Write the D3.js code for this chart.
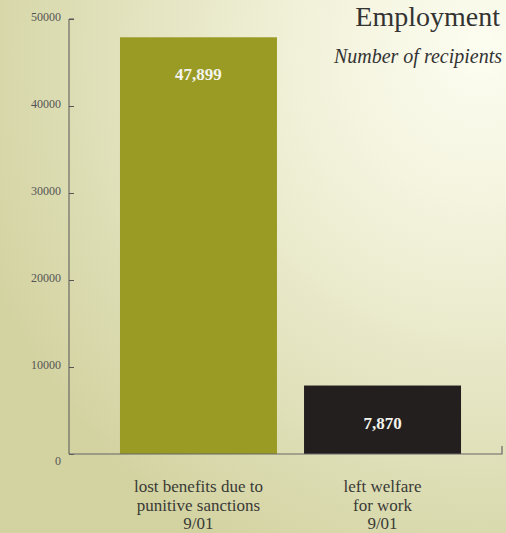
<!DOCTYPE html>
<html>
<head>
<meta charset="utf-8">
<script src="https://cdn.jsdelivr.net/npm/d3@7"></script>
<style>
  html, body { margin: 0; padding: 0; background: #e6e6c4; }
  svg { display: block; }
  svg text { font-family: 'Liberation Serif', 'DejaVu Serif', serif; }
  .axis text { font-size: 12px; fill: #555; }
  .axis path, .axis line { stroke: #555; }
</style>
</head>
<body>
<div id="chart"></div>
<script>
// Chart data
const categories = ["sanctions", "work"];
const categoryLines = [
    ["lost benefits due to", "punitive sanctions", "9/01"],
    ["left welfare", "for work", "9/01"]
];
const values = [47899, 7870];
const valueLabels = ["47,899", "7,870"];
const barColors = ["#9a9b24", "#231f1e"];
const yTicks = [0, 10000, 20000, 30000, 40000, 50000];

const width = 506, height = 533;
const margin = { top: 19, right: 4, bottom: 79, left: 69 };
const serif = "'Liberation Serif', 'DejaVu Serif', serif";

const svg = d3.select("#chart").append("svg")
    .attr("width", width)
    .attr("height", height);

// Paper-like background gradient: light top-right, greener bottom-left
const defs = svg.append("defs");
const grad = defs.append("radialGradient")
    .attr("id", "bg")
    .attr("cx", "0.95").attr("cy", "0.1").attr("r", "1.05");
grad.append("stop").attr("offset", "0").attr("stop-color", "#fdfdf1");
grad.append("stop").attr("offset", "0.35").attr("stop-color", "#f1f1d9");
grad.append("stop").attr("offset", "1").attr("stop-color", "#d3d3a2");

svg.append("rect")
    .attr("width", width).attr("height", height)
    .attr("fill", "url(#bg)");

const innerW = width - margin.left - margin.right;
const innerH = height - margin.top - margin.bottom;

const g = svg.append("g")
    .attr("transform", `translate(${margin.left},${margin.top})`);

const x = d3.scaleBand()
    .domain(categories)
    .range([0, innerW + 10])
    .paddingInner(0.147)
    .paddingOuter(0.277);

const y = d3.scaleLinear()
    .domain([0, 50000])
    .range([innerH, 0]);

// Y axis with ticks pointing inward
const yAxis = d3.axisRight(y)
    .tickValues(yTicks)
    .tickSize(5)
    .tickFormat(d3.format("d"));

const yAxisG = g.append("g")
    .attr("class", "axis y-axis")
    .call(yAxis);
yAxisG.attr("font-family", null);
yAxisG.select(".domain").attr("d", `M5,0H0V${innerH}`);
yAxisG.selectAll("text")
    .attr("x", -8)
    .attr("dy", d => d === 0 ? "0.9em" : "0.1em")
    .style("font-family", serif)
    .style("text-anchor", "end");

// Bars
g.selectAll(".bar")
    .data(values)
    .join("rect")
    .attr("class", "bar")
    .attr("x", (d, i) => x(categories[i]))
    .attr("y", d => y(d))
    .attr("width", x.bandwidth())
    .attr("height", d => innerH - y(d))
    .attr("fill", (d, i) => barColors[i]);

// X baseline with right end tick
g.append("path")
    .attr("d", `M0,${innerH}H${innerW}V${innerH - 8}`)
    .attr("fill", "none")
    .attr("stroke", "#666")
    .attr("stroke-width", 1.2);

// Value labels inside bars
g.selectAll(".value-label")
    .data(values)
    .join("text")
    .attr("class", "value-label")
    .attr("x", (d, i) => x(categories[i]) + x.bandwidth() / 2)
    .attr("y", d => y(d) + 43)
    .attr("text-anchor", "middle")
    .attr("fill", "#f4f4ee")
    .style("font-family", serif)
    .style("font-size", "17px")
    .style("font-weight", "bold")
    .text((d, i) => valueLabels[i]);

// Category labels
categories.forEach((c, i) => {
    const t = g.append("text")
        .attr("x", x(c) + x.bandwidth() / 2)
        .attr("y", innerH + 38)
        .attr("text-anchor", "middle")
        .attr("fill", "#3a3a36")
        .style("font-family", serif)
        .style("font-size", "17px");
    categoryLines[i].forEach((line, j) => {
        t.append("tspan")
            .attr("x", x(c) + x.bandwidth() / 2)
            .attr("dy", j === 0 ? 0 : 18.5)
            .text(line);
    });
});

// Title and subtitle, top right
svg.append("text")
    .attr("x", 500)
    .attr("y", 26)
    .attr("text-anchor", "end")
    .attr("fill", "#333")
    .style("font-family", serif)
    .style("font-size", "28px")
    .text("Employment");

svg.append("text")
    .attr("x", 502)
    .attr("y", 63)
    .attr("text-anchor", "end")
    .attr("fill", "#333")
    .style("font-family", serif)
    .style("font-style", "italic")
    .style("font-size", "20px")
    .text("Number of recipients");
</script>
</body>
</html>
